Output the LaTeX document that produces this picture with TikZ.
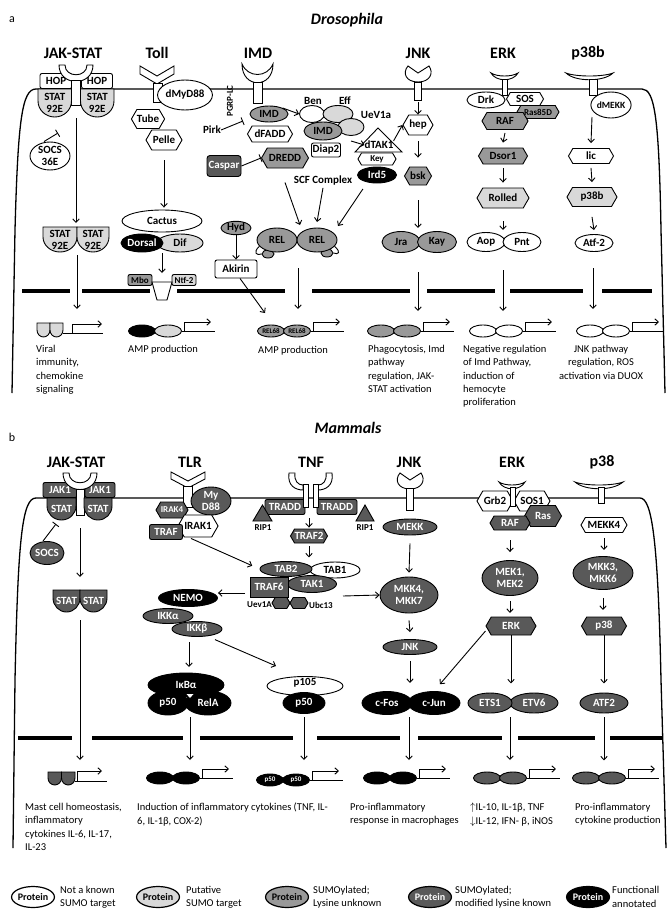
\documentclass[tikz,border=0pt]{standalone}
\usepackage{fontspec}
\setmainfont{Carlito}
\usetikzlibrary{shapes.geometric,shapes.symbols,arrows.meta}

\definecolor{putg}{HTML}{D9D9D9}
\definecolor{sumog}{HTML}{999999}
\definecolor{lysg}{HTML}{595959}

\newcommand\protfont{\fontsize{11}{12}\selectfont\bfseries}
\newcommand\smallpf{\fontsize{9}{10}\selectfont\bfseries}
\newcommand\genefont{\fontsize{7}{8}\selectfont\bfseries}

\tikzset{
  prot/.style={draw, ellipse, line width=0.9pt, inner sep=0pt, font=\protfont, align=center},
  hexa/.style={draw, signal, signal to=east and west, signal pointer angle=120, line width=0.9pt, inner sep=0pt, font=\protfont},
  boxp/.style={draw, rounded corners=2pt, line width=0.9pt, inner sep=0pt, font=\protfont},
  notsumo/.style={fill=white},
  putsumo/.style={fill=putg},
  sumou/.style={fill=sumog},
  sumok/.style={fill=lysg, text=white},
  funct/.style={fill=black, text=white},
  arr/.style={->, line width=0.9pt},
  inh/.style={-{Bar[width=8pt]}, line width=0.9pt},
  memb/.style={line width=1.3pt},
  nucl/.style={line width=3.6pt},
  recp/.style={draw, fill=white, line width=0.9pt},
  pathw/.style={font=\fontsize{16}{18}\selectfont\bfseries},
  desc/.style={font=\fontsize{10.5}{13.3}\selectfont, align=left, anchor=north west, inner sep=0pt},
  plab/.style={font=\protfont, inner sep=0pt},
  legp/.style={prot, line width=1.2pt, minimum width=40pt, minimum height=21pt, font=\fontsize{10}{11}\selectfont\bfseries},
}

% flat-topped shape with a round bottom (STAT dimers)
\newcommand\cupsh[8]{%
  \draw[#7,draw=black,line width=0.9pt] (#2,#3) -- ++(#4,0) -- ++(0,#5)
    arc[start angle=0,end angle=-180,x radius={#4*0.5pt},y radius={#6*1pt}] -- cycle;
  \node[#7,fill=none,font=\protfont,align=center,inner sep=0pt] (#1) at ({#2+#4/2},{#3+(#5+#6)/2}) {#8};
}
% two bound factors on DNA with a transcription arrow
\newcommand\genesite[6]{%
  \node[prot,#4,minimum width=27pt,minimum height=12pt,font=\genefont] (#1a) at (#2,#3) {#6};
  \node[prot,#5,minimum width=27pt,minimum height=12pt,font=\genefont] (#1b) at ({#2+26},#3) {#6};
  \draw[line width=0.9pt] (#1b.east) -- ++(33,0);
  \draw[->,line width=0.9pt] ([xshift=2pt]#1b.east) -- ++(0,-9) -- ++(27,0);
}

\begin{document}
\begin{tikzpicture}[x=1pt,y=-1pt,>={Straight Barb[length=3.5pt,width=6.5pt]}]
\useasboundingbox (0,0) rectangle (670,910);

% ---------- a: Drosophila ----------
\node[font=\fontsize{12}{14}\selectfont] (pa) at (12,20) {a};
\node[font=\fontsize{16}{18}\selectfont\bfseries\itshape] (fly) at (347,20) {Drosophila};
\foreach \nm/\xx/\lab in {jakA/73/JAK-STAT,tollA/157/Toll,imdA/258/IMD,jnkA/418/JNK,erkA/503/ERK,p38A/588/p38b}
  \node[pathw] (h\nm) at (\xx,53) {\lab};

\draw[memb] (12,393) -- (15,230) .. controls (18,120) and (22,89) .. (36,89) -- (642,89) .. controls (655,89) and (659,120) .. (661,230) -- (665,393);
\foreach \a/\b in {22/70,82/150,177/285,312/410,427/495,510/583,602/652}
  \draw[nucl] (\a,291) -- (\b,291);

% JAK-STAT
\node[boxp,notsumo,minimum width=32pt,minimum height=15pt] (hop1) at (56,81) {HOP};
\node[boxp,notsumo,minimum width=31pt,minimum height=15pt] (hop2) at (97,81) {HOP};
\draw[recp] (59,65) .. controls (59,87) and (93,87) .. (93,65) -- (87,65) .. controls (87,78) and (65,78) .. (65,65) -- cycle;
\draw[recp] (71.5,80) rectangle (80.5,105);
\cupsh{stat1}{38}{89}{33.5}{12}{16}{putsumo}{STAT\\92E}
\cupsh{stat2}{80.5}{89}{33.5}{12}{16}{putsumo}{STAT\\92E}
\node[prot,notsumo,minimum width=40pt,minimum height=28pt] (socs1) at (50,156) {SOCS\\36E};
\coordinate (socsbar1) at (58,133);
\draw[inh] ([xshift=-6pt]socs1.north) -- (socsbar1);
\coordinate (jk1) at (76,118);
\coordinate (jk2) at (76,223);
\draw[arr] (jk1) -- (jk2);
\cupsh{stat3}{43}{227}{34}{10}{15}{putsumo}{STAT\\92E}
\cupsh{stat4}{77}{227}{32}{10}{15}{putsumo}{STAT\\92E}
\coordinate (jk3) at (77,255);
\coordinate (jk4) at (77,309);
\draw[arr] (jk3) -- (jk4);
\cupsh{g1a}{37}{323}{13}{7}{7}{putsumo}{}
\cupsh{g1b}{50}{323}{13}{7}{7}{putsumo}{}
\coordinate (g1e) at (63,333);
\draw[line width=0.9pt] (g1e) -- ++(40,0);
\draw[->,line width=0.9pt] ([xshift=9pt]g1e) -- ++(0,-9) -- ++(30,0);
\node[desc] (d1) at (36,345) {Viral\\immunity,\\chemokine\\signaling};

% Toll
\draw[recp] (140,66) -- (157,76) -- (174,66) -- (174,74) -- (157,84) -- (140,74) -- cycle;
\draw[recp] (153,83) rectangle (162,102);
\node[prot,notsumo,minimum width=46pt,minimum height=30pt] (myd) at (185,95) {dMyD88};
\node[hexa,notsumo,minimum width=33pt,minimum height=19pt] (tube) at (148,119) {Tube};
\node[hexa,notsumo,minimum width=36pt,minimum height=20pt] (pelle) at (164,140) {Pelle};
\node[prot,notsumo,minimum width=80pt,minimum height=22pt] (cactus) at (162,221) {Cactus};
\node[prot,putsumo,minimum width=46pt,minimum height=18pt] (dif) at (180,243) {Dif};
\node[prot,funct,minimum width=42pt,minimum height=18pt] (dorsal) at (142,243) {Dorsal};
\draw[arr,shorten >=2pt] ([yshift=-10pt]pelle.south) -- (pelle.south |- cactus.north);
\node[boxp,sumou,minimum width=24pt,minimum height=11pt,font=\smallpf] (mbo) at (140,280) {Mbo};
\node[boxp,putsumo,minimum width=24pt,minimum height=11pt,font=\smallpf] (ntf) at (184,280) {Ntf-2};
\draw[recp] (152,282) -- (172,282) -- (167,300) -- (157,300) -- cycle;
\coordinate (dd1) at (162,253);
\coordinate (dd2) at (162,273);
\draw[arr] (dd1) -- (dd2);
\genesite{g2}{142}{331}{funct}{putsumo}{}
\node[desc] (d2) at (128,345) {AMP production};

% IMD
\draw[recp] (242,64) .. controls (242,89) and (273,89) .. (273,64) .. controls (267,78) and (248,78) .. (242,64) -- cycle;
\draw[recp] (253,82) rectangle (262,103);
\node[plab,rotate=90,font=\smallpf] (pgrp) at (230,101) {PGRP-LC};
\node[prot,sumou,minimum width=38pt,minimum height=16pt] (imd1) at (269,114) {IMD};
\node[hexa,notsumo,minimum width=45pt,minimum height=16pt] (fadd) at (270,134) {dFADD};
\node[hexa,sumou,minimum width=47pt,minimum height=20pt] (dredd) at (285,158) {DREDD};
\node[plab] (pirk) at (212,130) {Pirk};
\coordinate (pirkbar) at (243,121);
\draw[inh] (pirk.east) -- (pirkbar);
\node[boxp,sumok,rounded corners=3pt,minimum width=34pt,minimum height=21pt] (caspar) at (224,166) {Caspar};
\draw[inh] (caspar.east) -- (dredd.west);
\node[prot,notsumo,minimum width=25pt,minimum height=17pt] (ben) at (312,114) {};
\node[prot,putsumo,minimum width=30pt,minimum height=17pt] (eff) at (338,114) {};
\node[prot,putsumo,minimum width=26pt,minimum height=17pt] (uevf) at (351,127) {};
\node[prot,sumou,minimum width=38pt,minimum height=18pt] (imd2) at (323,131) {IMD};
\node[plab] (benl) at (313,101) {Ben};
\node[plab] (effl) at (345,101) {Eff};
\node[plab] (uevfl) at (376,115) {UeV1a};
\node[boxp,notsumo,minimum width=29pt,minimum height=14pt] (diap) at (326,150) {Diap2};
\draw[arr] (imd1.north east) -- (ben.west);
\draw[recp] (355,152) -- (378,128) -- (402,152) -- cycle;
\node[plab] (tak) at (379,145) {dTAK1};
\node[hexa,notsumo,minimum width=38pt,minimum height=12pt,font=\smallpf] (key) at (377,159) {Key};
\node[prot,funct,minimum width=39pt,minimum height=16pt] (ird5) at (377,175) {Ird5};
\coordinate (imd2a) at (351,141);
\draw[arr] (imd2a) -- (tak.west);
\node[plab] (scf) at (323,181) {SCF Complex};
\node[prot,sumou,minimum width=12pt,minimum height=8pt] (relc1) at (268,254) {};
\node[prot,sumou,minimum width=12pt,minimum height=8pt] (relc2) at (327,253) {};
\node[prot,sumou,minimum width=40pt,minimum height=24pt] (rel1) at (277,240) {REL};
\node[prot,sumou,minimum width=40pt,minimum height=24pt] (rel2) at (317,240) {REL};
\draw[line width=0.9pt] (rel1.200) .. controls +(-7,6) and +(-5,2) .. (relc1.west);
\draw[line width=0.9pt] (rel2.-20) .. controls +(7,6) and +(5,2) .. (relc2.east);
\coordinate (relin1) at (300,225);
\coordinate (relin2) at (317,222);
\coordinate (relin3) at (338,226);
\draw[arr] ([yshift=-14pt]dredd.south) -- (relin1);
\draw[arr] ([yshift=-2pt]scf.south) -- (relin2);
\draw[arr] ([yshift=-8pt]ird5.south west) -- (relin3);
\node[prot,sumou,minimum width=30pt,minimum height=13pt] (hyd) at (236,228) {Hyd};
\node[boxp,notsumo,minimum width=42pt,minimum height=18pt] (akirin) at (236,269) {Akirin};
\draw[arr] (hyd) -- (akirin);
\coordinate (relgin) at (265,313);
\draw[arr] ([xshift=4pt]akirin.south) -- (relgin);
\coordinate (relout) at (298,268);
\coordinate (relg) at (298,309);
\draw[arr] (relout) -- (relg);
\genesite{g3}{271}{331}{sumou}{sumou}{REL68}
\node[desc] (d3) at (258,346) {AMP production};

% JNK
\draw[recp] (408,66) -- (418,73) -- (429,66) .. controls (434,73) and (430,82) .. (418,82) .. controls (406,82) and (402,73) .. (408,66) -- cycle;
\draw[recp] (414.5,82) rectangle (421.5,100);
\coordinate (jnks1) at (418,102);
\node[hexa,notsumo,minimum width=30pt,minimum height=20pt] (hep) at (418,125) {hep};
\draw[arr] (jnks1) -- (hep.north);
\draw[arr] (tak.north east) -- (hep.west);
\node[hexa,sumou,minimum width=27pt,minimum height=18pt] (bsk) at (418,176) {bsk};
\draw[arr] ([yshift=-6pt]hep.south) -- ([yshift=9pt]bsk.north);
\node[prot,sumou,minimum width=38pt,minimum height=21pt] (jra) at (401,242) {Jra};
\node[prot,sumou,minimum width=39pt,minimum height=21pt] (kay) at (437,242) {Kay};
\coordinate (jn1) at (418,200);
\coordinate (jn2) at (418,228);
\draw[arr] (jn1) -- (jn2);
\coordinate (jn3) at (418,272);
\coordinate (jn4) at (418,311);
\draw[arr] (jn3) -- (jn4);
\genesite{g4}{381}{331}{sumou}{sumou}{}
\node[desc] (d4) at (368,345) {Phagocytosis, Imd\\pathway\\regulation, JAK-\\STAT activation};

% ERK
\draw[recp] (491,73) .. controls (496,82) and (513,82) .. (518,73) .. controls (512,77) and (497,77) .. (491,73) -- cycle;
\node[prot,notsumo,minimum width=38pt,minimum height=16pt] (drk) at (486,100) {Drk};
\node[hexa,notsumo,minimum width=37pt,minimum height=13pt] (sos) at (525,99) {SOS};
\draw[recp] (502,79) rectangle (507,95);
\node[hexa,sumou,minimum width=42pt,minimum height=13pt,font=\smallpf] (ras) at (538,112) {Ras85D};
\node[hexa,sumou,minimum width=46pt,minimum height=17pt] (raf) at (505,121) {RAF};
\node[hexa,sumou,minimum width=49pt,minimum height=16pt] (dsor) at (503,156) {Dsor1};
\node[hexa,putsumo,minimum width=52pt,minimum height=20pt] (rolled) at (503,198) {Rolled};
\draw[arr] ([yshift=-3pt]raf.south) -- ([yshift=5pt]dsor.north);
\draw[arr] ([yshift=-4pt]dsor.south) -- ([yshift=5pt]rolled.north);
\node[prot,notsumo,minimum width=38pt,minimum height=19pt] (aop) at (486,242) {Aop};
\node[prot,notsumo,minimum width=38pt,minimum height=19pt] (pnt) at (522,242) {Pnt};
\coordinate (er1) at (503,230);
\draw[arr] ([yshift=-13pt]rolled.south) -- (er1);
\coordinate (er2) at (503,270);
\coordinate (er3) at (503,311);
\draw[arr] (er2) -- (er3);
\genesite{g5}{483}{331}{notsumo}{notsumo}{}
\node[desc] (d5) at (463,345) {Negative regulation\\of Imd Pathway,\\induction of\\hemocyte\\proliferation};

% p38b
\draw[recp] (566,73) .. controls (575,82) and (604,82) .. (613,73) .. controls (603,77) and (576,77) .. (566,73) -- cycle;
\draw[recp] (589,79) rectangle (597,95);
\node[prot,notsumo,minimum width=36pt,minimum height=26pt,font=\fontsize{9.5}{10}\selectfont\bfseries] (dmekk) at (611,105) {dMEKK};
\coordinate (p38s) at (592,117);
\node[hexa,notsumo,minimum width=45pt,minimum height=15pt] (lic) at (591,156) {lic};
\draw[arr] (p38s) -- ([yshift=5pt]lic.north);
\node[hexa,putsumo,minimum width=50pt,minimum height=19pt] (p38bb) at (592,197) {p38b};
\draw[arr] ([yshift=-4pt]lic.south) -- ([yshift=5pt]p38bb.north);
\node[prot,notsumo,minimum width=38pt,minimum height=17pt] (atf2) at (594,243) {Atf-2};
\draw[arr] ([yshift=-10pt]p38bb.south) -- ([yshift=4pt]atf2.north);
\coordinate (pb1) at (593,268);
\coordinate (pb2) at (593,309);
\draw[arr] (pb1) -- (pb2);
\genesite{g6}{590}{331}{notsumo}{notsumo}{}
\node[desc,anchor=north,align=center] (d6) at (601,345) {JNK pathway\\regulation, ROS\\activation via DUOX};

% ---------- b: Mammals ----------
\node[font=\fontsize{12}{14}\selectfont] (pb) at (12,437) {b};
\node[font=\fontsize{16}{18}\selectfont\bfseries\itshape] (mam) at (348,428) {Mammals};
\foreach \nm/\xx/\lab in {jakB/76/JAK-STAT,tlrB/190/TLR,tnfB/311/TNF,jnkB/409/JNK,erkB/512/ERK,p38B/602/p38}
  \node[pathw] (h\nm) at (\xx,462) {\lab};

\draw[memb] (13,848) -- (15,680) .. controls (18,540) and (22,498) .. (36,498) -- (640,498) .. controls (652,498) and (658,540) .. (661,680) -- (666,848);
\foreach \a/\b in {18/72,92/183,200/293,317/400,418/502,518/595,610/662}
  \draw[nucl] (\a,738) -- (\b,738);

% JAK-STAT
\node[boxp,sumok,minimum width=34pt,minimum height=15pt] (jak1) at (60,490) {JAK1};
\node[boxp,sumok,minimum width=30pt,minimum height=15pt] (jak2) at (100,490) {JAK1};
\draw[recp] (63,473) .. controls (63,495) and (97,495) .. (97,473) -- (91,473) .. controls (91,486) and (69,486) .. (69,473) -- cycle;
\draw[recp] (76,489) rectangle (84,515);
\cupsh{stat5}{47}{498}{29}{8}{14}{sumok}{STAT}
\cupsh{stat6}{84}{498}{28}{8}{14}{sumok}{STAT}
\node[prot,sumok,minimum width=34pt,minimum height=23pt] (socs2) at (47,553) {SOCS};
\coordinate (socsbar2) at (56,524);
\draw[inh] ([xshift=-4pt]socs2.north) -- (socsbar2);
\coordinate (js1) at (80,528);
\coordinate (js2) at (80,577);
\draw[arr] (js1) -- (js2);
\cupsh{stat7}{53}{590}{27}{8}{14}{sumok}{STAT}
\cupsh{stat8}{80}{590}{27}{8}{14}{sumok}{STAT}
\coordinate (js3) at (80,620);
\coordinate (js4) at (80,760);
\draw[arr] (js3) -- (js4);
\cupsh{g7a}{48}{772}{13.5}{6}{7}{sumok}{}
\cupsh{g7b}{61.5}{772}{13.5}{6}{7}{sumok}{}
\coordinate (g7e) at (75,781);
\draw[line width=0.9pt] (g7e) -- ++(32,0);
\draw[->,line width=0.9pt] ([xshift=2pt]g7e) -- ++(0,-10) -- ++(25,0);
\node[desc] (d7) at (25,803) {Mast cell homeostasis,\\inflammatory\\cytokines IL-6, IL-17,\\IL-23};

% TLR
\draw[recp] (171,472) -- (188,481) -- (205,472) -- (205,479) -- (188,488) -- (171,479) -- cycle;
\draw[recp] (183.5,486) rectangle (192.5,507);
\node[prot,sumok,minimum width=40pt,minimum height=28pt] (myd88) at (211,501) {My\\D88};
\node[hexa,sumok,minimum width=32pt,minimum height=16pt,font=\smallpf] (irak4) at (172,510) {IRAK4};
\node[hexa,notsumo,minimum width=37pt,minimum height=22pt] (irak1) at (198,526) {IRAK1};
\node[boxp,sumok,minimum width=33pt,minimum height=15pt] (traf) at (166,532) {TRAF};

% TNF
\node[boxp,sumok,minimum width=40pt,minimum height=15pt] (tradd1) at (285,507) {TRADD};
\node[boxp,sumok,minimum width=40pt,minimum height=15pt] (tradd2) at (337,507) {TRADD};
\draw[recp] (289,473) .. controls (287,486) and (296,490) .. (303,490) -- (303,485) .. controls (298,485) and (294,481) .. (295,473) -- cycle;
\draw[recp] (332,473) .. controls (334,486) and (325,490) .. (318,490) -- (318,485) .. controls (323,485) and (327,481) .. (326,473) -- cycle;
\draw[recp] (303,484) rectangle (308,507);
\draw[recp] (313,484) rectangle (318,507);
\draw[fill=lysg,line width=0.9pt] (253,521) -- (262.5,505) -- (272,521) -- cycle;
\draw[fill=lysg,line width=0.9pt] (356,521) -- (365,505) -- (374,521) -- cycle;
\node[plab,font=\smallpf] (rip1a) at (263,528) {RIP1};
\node[plab,font=\smallpf] (rip1b) at (365,528) {RIP1};
\node[hexa,sumok,minimum width=36pt,minimum height=14pt] (traf2) at (309,536) {TRAF2};
\coordinate (tnfs) at (309,518);
\draw[arr] (tnfs) -- ([yshift=1pt]traf2.north);
\draw[arr] ([yshift=-3pt]traf2.south) -- ++(0,11);
\node[prot,notsumo,minimum width=50pt,minimum height=16pt] (tab1) at (335,570) {TAB1};
\node[prot,sumok,minimum width=52pt,minimum height=15pt] (tab2) at (286,569) {TAB2};
\node[prot,sumok,minimum width=49pt,minimum height=17pt] (tak1) at (312,584) {TAK1};
\node[boxp,sumok,rounded corners=0pt,minimum width=38pt,minimum height=20pt] (traf6) at (269,587) {TRAF6};
\node[hexa,sumok,minimum width=18pt,minimum height=11pt] (uevm) at (281,603) {};
\node[hexa,sumok,minimum width=18pt,minimum height=11pt] (ubc) at (299,603) {};
\node[plab,font=\smallpf,anchor=east] (uevml) at (272,605) {Uev1A};
\node[plab,font=\smallpf,anchor=west] (ubcl) at (309,605) {Ubc13};
\draw[arr,shorten >=8pt] ([xshift=-7pt,yshift=-1pt]irak1.south) -- (tab2.west);

% NF-kB
\node[prot,funct,minimum width=59pt,minimum height=17pt] (nemo) at (188,598) {NEMO};
\node[prot,sumok,minimum width=50pt,minimum height=15pt] (ikka) at (168,616) {IKKα};
\node[prot,sumok,minimum width=50pt,minimum height=15pt] (ikkb) at (197,629) {IKKβ};
\coordinate (t6l) at (245,593);
\draw[arr] (t6l) -- (nemo.east |- t6l);
\node[prot,funct,minimum width=76pt,minimum height=24pt] (ikba) at (186,685) {IκBα};
\node[prot,funct,minimum width=40pt,minimum height=24pt] (p50a) at (168,703) {p50};
\node[prot,funct,minimum width=46pt,minimum height=24pt] (rela) at (208,703) {RelA};
\draw[fill=white,draw=none] (186.5,694) -- (193.5,694) -- (190,698) -- cycle;
\coordinate (nf1) at (189,642);
\coordinate (nf2) at (189,667);
\draw[arr] (nf1) -- (nf2);
\node[prot,notsumo,minimum width=76pt,minimum height=19pt] (p105) at (305,686) {};
\node[prot,funct,minimum width=42pt,minimum height=21pt] (p50b) at (304,703) {p50};
\node[plab] (p105l) at (305,683) {p105};
\coordinate (p105in) at (276,666);
\draw[arr] ([yshift=-5pt]ikkb.south east) -- (p105in);
\coordinate (nf3) at (190,717);
\coordinate (nf4) at (190,760);
\draw[arr] (nf3) -- (nf4);
\coordinate (nf5) at (304,717);
\coordinate (nf6) at (304,760);
\draw[arr] (nf5) -- (nf6);
\genesite{g8}{160}{778}{funct}{funct}{}
\node[desc] (d8) at (137,803) {Induction of inflammatory cytokines (TNF, IL-\\6, IL-1β, COX-2)};
\genesite{g9}{270}{780}{funct}{funct}{p50}

% JNK
\draw[recp] (400,473) -- (410,480) -- (421,473) .. controls (426,480) and (422,489) .. (410,489) .. controls (398,489) and (394,480) .. (400,473) -- cycle;
\draw[recp] (406.5,488) rectangle (413.5,510);
\node[prot,sumok,minimum width=54pt,minimum height=16pt] (mekk) at (410,527) {MEKK};
\node[prot,sumok,minimum width=58pt,minimum height=36pt] (mkk4) at (409,595) {MKK4,\\MKK7};
\node[prot,sumok,minimum width=54pt,minimum height=15pt] (jnk) at (410,647) {JNK};
\node[prot,funct,minimum width=52pt,minimum height=23pt] (cjun) at (434,703) {c-Jun};
\node[prot,funct,minimum width=50pt,minimum height=23pt] (cfos) at (387,703) {c-Fos};
\draw[arr] ([yshift=-8pt]mekk.south) -- ([yshift=4pt]mkk4.north);
\draw[arr] ([yshift=-7pt]mkk4.south) -- ([yshift=7pt]jnk.north);
\draw[arr] ([yshift=-6pt]jnk.south) -- ++(0,22);
\coordinate (tk1) at (343,596);
\draw[arr] (tk1) -- (mkk4.west);
\coordinate (fo1) at (409,717);
\coordinate (fo2) at (409,760);
\draw[arr] (fo1) -- (fo2);
\genesite{g10}{377}{778}{funct}{funct}{}
\node[desc] (d10) at (350,803) {Pro-inflammatory\\response in macrophages};

% ERK
\draw[recp] (499,482) .. controls (504,491) and (520,491) .. (525,482) .. controls (519,486) and (505,486) .. (499,482) -- cycle;
\node[hexa,notsumo,minimum width=36pt,minimum height=20pt] (grb2) at (495,501) {Grb2};
\node[hexa,notsumo,minimum width=36pt,minimum height=20pt] (sos1) at (532,501) {SOS1};
\draw[recp] (510,487) rectangle (515,506);
\node[hexa,sumok,minimum width=37pt,minimum height=21pt] (rasm) at (543,516) {Ras};
\node[hexa,sumok,minimum width=40pt,minimum height=14pt] (rafm) at (510,523) {RAF};
\node[prot,sumok,minimum width=56pt,minimum height=35pt] (mek) at (510,578) {MEK1,\\MEK2};
\node[hexa,sumok,minimum width=50pt,minimum height=18pt] (erkm) at (511,626) {ERK};
\node[prot,sumok,minimum width=48pt,minimum height=20pt] (etv6) at (534,703) {ETV6};
\node[prot,sumok,minimum width=44pt,minimum height=20pt] (ets1) at (490,703) {ETS1};
\draw[arr] ([yshift=-10pt]rafm.south) -- ([yshift=8pt]mek.north);
\draw[arr] ([yshift=-5pt]mek.south) -- ++(0,12);
\draw[arr] (erkm.south) -- ++(0,48);
\draw[arr,shorten >=9pt] ([yshift=-5pt]erkm.west) -- (cjun.north);
\coordinate (et1) at (510,717);
\coordinate (et2) at (510,760);
\draw[arr] (et1) -- (et2);
\genesite{g11}{487}{778}{sumok}{sumok}{}
\node[desc] (d11) at (470,803) {$\uparrow$IL-10, IL-1β, TNF\\$\downarrow$IL-12, IFN- β, iNOS};

% p38
\draw[recp] (575,482) .. controls (585,491) and (613,491) .. (623,482) .. controls (613,486) and (585,486) .. (575,482) -- cycle;
\draw[recp] (598,487) rectangle (604,503);
\node[hexa,notsumo,minimum width=46pt,minimum height=15pt] (mekk4) at (604,525) {MEKK4};
\node[prot,sumok,minimum width=60pt,minimum height=33pt] (mkk3) at (603,573) {MKK3,\\MKK6};
\node[hexa,sumok,minimum width=45pt,minimum height=18pt] (p38m) at (604,626) {p38};
\node[prot,sumok,minimum width=48pt,minimum height=20pt] (atf2m) at (604,703) {ATF2};
\draw[arr] ([yshift=-5pt]mekk4.south) -- ++(0,12);
\draw[arr] ([yshift=-8pt]mkk3.south) -- ++(0,12);
\draw[arr] (p38m.south) -- ++(0,48);
\draw[arr] ([yshift=-4pt]atf2m.south) -- ++(0,43);
\genesite{g12}{586}{778}{sumok}{sumok}{}
\node[desc] (d12) at (575,803) {Pro-inflammatory\\cytokine production};

% ---------- legend ----------
\node[legp,notsumo] (lg1) at (33,897) {Protein};
\node[desc,anchor=west] (lt1) at (60,897) {Not a known\\SUMO target};
\node[legp,putsumo] (lg2) at (158,897) {Protein};
\node[desc,anchor=west] (lt2) at (186,897) {Putative\\SUMO target};
\node[legp,sumou] (lg3) at (287,897) {Protein};
\node[desc,anchor=west] (lt3) at (313,897) {SUMOylated;\\Lysine unknown};
\node[legp,sumok] (lg4) at (430,897) {Protein};
\node[desc,anchor=west] (lt4) at (455,897) {SUMOylated;\\modified lysine known};
\node[legp,funct] (lg5) at (588,897) {Protein};
\node[desc,anchor=west] (lt5) at (612,897) {Functionall\\annotated};
\end{tikzpicture}
\end{document}
